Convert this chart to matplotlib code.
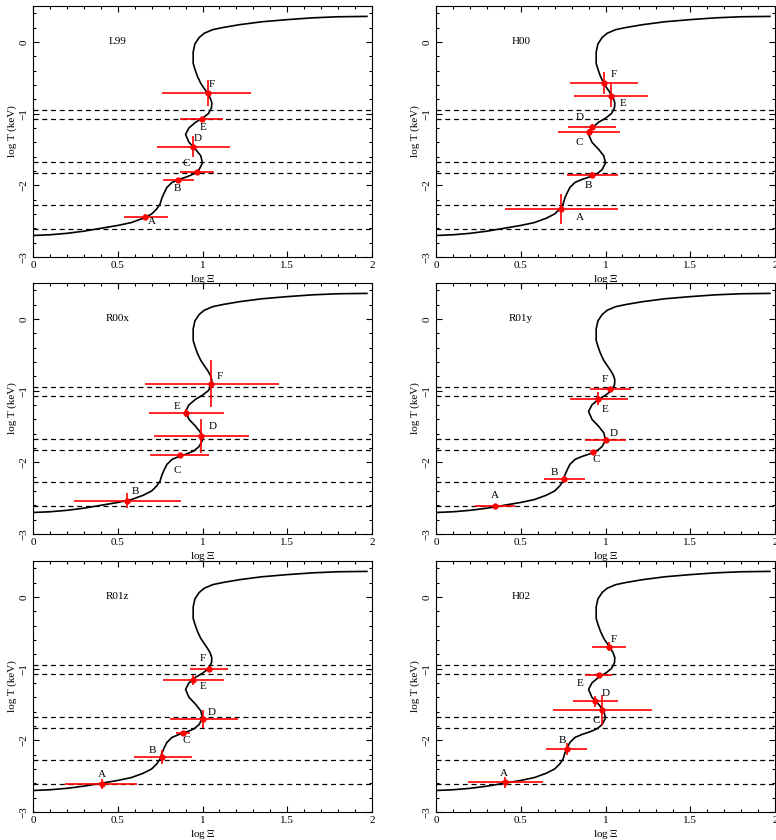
import numpy as np
import matplotlib.pyplot as plt
from matplotlib.ticker import MultipleLocator

plt.rcParams['font.family'] = ['Liberation Serif', 'DejaVu Serif']
plt.rcParams['mathtext.fontset'] = 'stix'

# S-curve (log T vs log Xi)
curve_x = [0.00, 0.10, 0.20, 0.30, 0.40, 0.50, 0.58, 0.65, 0.70, 0.73, 0.75, 0.76,
           0.775, 0.79, 0.82, 0.86, 0.91, 0.95, 0.98, 1.00, 0.99, 0.96, 0.92, 0.90,
           0.92, 0.96, 1.00, 1.035, 1.053, 1.055, 1.045, 1.03, 0.99, 0.97, 0.955,
           0.945, 0.945, 0.955, 0.98, 1.01, 1.06, 1.12, 1.22, 1.35, 1.50, 1.65, 1.80, 1.97]
curve_y = [-2.70, -2.69, -2.67, -2.64, -2.60, -2.56, -2.52, -2.46, -2.40, -2.33, -2.26, -2.18,
           -2.10, -2.03, -1.96, -1.92, -1.88, -1.84, -1.78, -1.69, -1.59, -1.50, -1.40, -1.29,
           -1.20, -1.12, -1.065, -1.00, -0.92, -0.85, -0.78, -0.72, -0.58, -0.48, -0.38,
           -0.30, -0.14, -0.03, 0.06, 0.12, 0.17, 0.20, 0.24, 0.28, 0.31, 0.335, 0.35, 0.355]

# horizontal dashed levels
levels = [-0.95, -1.08, -1.674, -1.833, -2.27, -2.61]

panel_names = ["L99", "H00", "R00x", "R01y", "R01z", "H02"]

# per panel: labels, x, y, x lower err, x upper err, y err
l99_lab = ["A", "B", "C", "D", "E", "F"]
l99_x = [0.663, 0.855, 0.966, 0.945, 0.996, 1.030]
l99_y = [-2.442, -1.926, -1.814, -1.460, -1.074, -0.716]
l99_xlo = [0.128, 0.089, 0.101, 0.212, 0.131, 0.268]
l99_xhi = [0.133, 0.092, 0.103, 0.215, 0.123, 0.257]
l99_yerr = [0.04, 0.02, 0.03, 0.15, 0.03, 0.18]

h00_lab = ["A", "B", "C", "D", "E", "F"]
h00_x = [0.739, 0.921, 0.901, 0.921, 1.030, 0.990]
h00_y = [-2.330, -1.851, -1.251, -1.181, -0.749, -0.577]
h00_xlo = [0.329, 0.149, 0.182, 0.141, 0.218, 0.202]
h00_xhi = [0.334, 0.152, 0.182, 0.142, 0.223, 0.204]
h00_yerr = [0.21, 0.03, 0.03, 0.04, 0.16, 0.15]

r00x_lab = ["B", "C", "D", "E", "F"]
r00x_x = [0.554, 0.865, 0.994, 0.905, 1.053]
r00x_y = [-2.534, -1.905, -1.635, -1.313, -0.904]
r00x_xlo = [0.312, 0.172, 0.281, 0.222, 0.390]
r00x_xhi = [0.317, 0.175, 0.283, 0.224, 0.397]
r00x_yerr = [0.11, 0.04, 0.24, 0.05, 0.33]

r01y_lab = ["A", "B", "C", "D", "E", "F"]
r01y_x = [0.347, 0.758, 0.929, 1.000, 0.958, 1.028]
r01y_y = [-2.614, -2.233, -1.851, -1.684, -1.112, -0.981]
r01y_xlo = [0.115, 0.120, 0.019, 0.123, 0.170, 0.118]
r01y_xhi = [0.122, 0.123, 0.021, 0.123, 0.175, 0.122]
r01y_yerr = [0.02, 0.04, 0.02, 0.04, 0.09, 0.03]

r01z_lab = ["A", "B", "C", "D", "E", "F"]
r01z_x = [0.406, 0.762, 0.885, 1.002, 0.945, 1.038]
r01z_y = [-2.610, -2.230, -1.895, -1.705, -1.157, -1.008]
r01z_xlo = [0.218, 0.168, 0.039, 0.194, 0.179, 0.113]
r01z_xhi = [0.208, 0.175, 0.040, 0.206, 0.184, 0.111]
r01z_yerr = [0.065, 0.10, 0.02, 0.13, 0.07, 0.04]

h02_lab = ["A", "B", "C", "D", "E", "F"]
h02_x = [0.410, 0.770, 0.980, 0.941, 0.960, 1.020]
h02_y = [-2.585, -2.124, -1.579, -1.458, -1.095, -0.694]
h02_xlo = [0.222, 0.122, 0.291, 0.133, 0.079, 0.099]
h02_xhi = [0.220, 0.121, 0.293, 0.132, 0.080, 0.103]
h02_yerr = [0.08, 0.08, 0.21, 0.08, 0.02, 0.06]

panels = [
    (l99_lab, l99_x, l99_y, l99_xlo, l99_xhi, l99_yerr),
    (h00_lab, h00_x, h00_y, h00_xlo, h00_xhi, h00_yerr),
    (r00x_lab, r00x_x, r00x_y, r00x_xlo, r00x_xhi, r00x_yerr),
    (r01y_lab, r01y_x, r01y_y, r01y_xlo, r01y_xhi, r01y_yerr),
    (r01z_lab, r01z_x, r01z_y, r01z_xlo, r01z_xhi, r01z_yerr),
    (h02_lab, h02_x, h02_y, h02_xlo, h02_xhi, h02_yerr),
]

# label offsets in pixels (layout only)
label_off = [
    [(7, -5), (-1, -9), (-10, 8), (5, 8), (1, -9), (4, 9)],
    [(19, -9), (-4, -11), (-9, -11), (-12, 9), (12, -8), (10, 9)],
    [(8, 9), (-2, -15), (11, 10), (-9, 7), (8, 7)],
    [(0, 11), (-10, 6), (3, -8), (8, 6), (7, -11), (-5, 10)],
    [(0, 10), (-10, 6), (3, -8), (9, 7), (10, -7), (-6, 11)],
    [(-2, 9), (-4, 9), (-6, -10), (10, 8), (-19, -8), (5, 7)],
]

fig = plt.figure(figsize=(7.76, 8.4), dpi=100)
lefts = [33 / 776, 436 / 776]
bottoms = [1 - 257 / 840, 1 - 534 / 840, 1 - 812 / 840]
w = 339 / 776
h = 251 / 840

for i, name in enumerate(panel_names):
    row, col = i // 2, i % 2
    ax = fig.add_axes([lefts[col], bottoms[row], w, h])
    for lv in levels:
        ax.axhline(lv, color='black', ls=(0, (4, 3)), lw=0.9)
    ax.plot(curve_x, curve_y, color='black', lw=1.2)
    lab, x, y, xlo, xhi, yerr = panels[i]
    ax.errorbar(x, y, xerr=[xlo, xhi], yerr=yerr, fmt='o', color='red',
                ms=3.5, elinewidth=1.2, capsize=0)
    for j, t in enumerate(lab):
        ax.annotate(t, (x[j], y[j]), xytext=label_off[i][j], textcoords='offset pixels',
                    ha='center', va='center', fontsize=8)
    ax.text(0.5, 0.0, name, ha='center', va='center', fontsize=8)
    ax.set_xlim(0, 2)
    ax.set_ylim(-3, 0.5)
    ax.xaxis.set_major_locator(MultipleLocator(0.5))
    ax.xaxis.set_minor_locator(MultipleLocator(0.1))
    ax.yaxis.set_major_locator(MultipleLocator(1))
    ax.yaxis.set_minor_locator(MultipleLocator(0.2))
    ax.set_xticks([0, 0.5, 1, 1.5, 2])
    ax.set_xticklabels(["0", "0.5", "1", "1.5", "2"])
    ax.set_yticks([-3, -2, -1, 0])
    ax.set_yticklabels(["\u22123", "\u22122", "\u22121", "0"], rotation=90, va='center')
    ax.tick_params(which='both', direction='in', top=True, right=True, labelsize=8, pad=3)
    ax.tick_params(which='major', length=4, width=0.8)
    ax.tick_params(which='minor', length=2, width=0.8)
    ax.set_xlabel(r"log $\Xi$", fontsize=8, labelpad=2)
    ax.set_ylabel("log T (keV)", fontsize=8, labelpad=2)

plt.savefig("out.png", dpi=100)
